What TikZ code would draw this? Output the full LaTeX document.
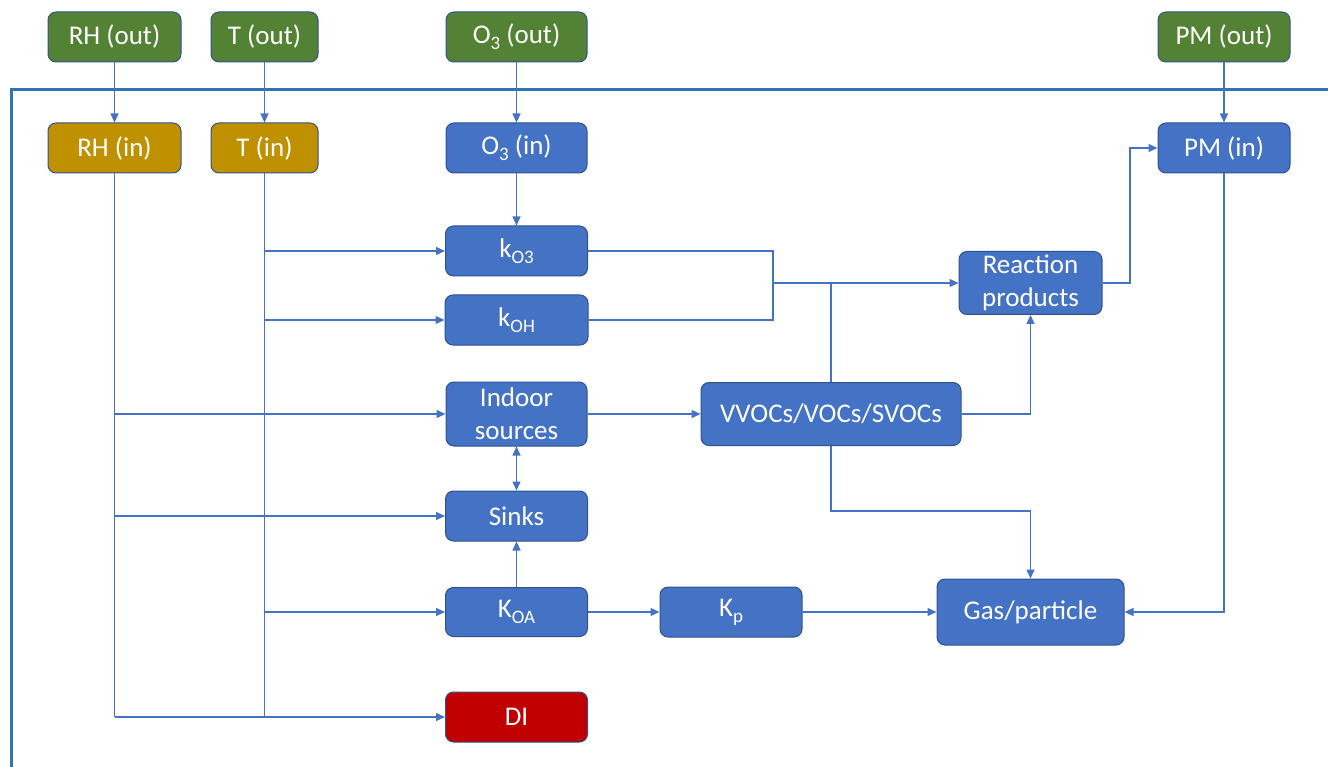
\documentclass[tikz,border=0pt]{standalone}
\usepackage{fontspec}
\setmainfont{Carlito}
\usetikzlibrary{arrows.meta}
\definecolor{boxblue}{HTML}{4472C4}
\definecolor{boxgreen}{HTML}{548235}
\definecolor{boxgold}{HTML}{BF9000}
\definecolor{boxred}{HTML}{C00000}
\definecolor{edge}{HTML}{2F528F}
\definecolor{lineblue}{HTML}{4472C4}
\definecolor{framecol}{HTML}{2E75B6}
\newcommand\lowsub[1]{\raisebox{-0.45ex}{\fontsize{19}{19}\selectfont #1}}
\tikzset{
  box/.style={draw=edge, line width=1pt, rounded corners=8pt, text=white,
    font=\fontsize{27}{33}\selectfont, inner sep=0pt, align=center, fill=boxblue},
  conn/.style={draw=lineblue, line width=1.3pt, -{Triangle[length=9pt,width=8pt]}},
  conntwo/.style={draw=lineblue, line width=1.3pt, {Triangle[length=9pt,width=8pt]}-{Triangle[length=9pt,width=8pt]}},
  plain/.style={draw=lineblue, line width=1.3pt}
}
\begin{document}
\begin{tikzpicture}[x=1pt,y=-1pt]
\useasboundingbox (0,0) rectangle (1328,767);
% frame
\draw[framecol, line width=3pt] (1335,90) -- (11,90) -- (11,775);
% nodes
\node[box, fill=boxgreen, minimum width=133pt, minimum height=50pt] (rhout) at (114.5,37) {RH (out)};
\node[box, fill=boxgreen, minimum width=107pt, minimum height=50pt] (tout) at (264.5,37) {T (out)};
\node[box, fill=boxgreen, minimum width=141pt, minimum height=50pt] (o3out) at (516.5,37) {O\lowsub{3} (out)};
\node[box, fill=boxgreen, minimum width=132pt, minimum height=50pt] (pmout) at (1224,37) {PM (out)};
\node[box, fill=boxgold, minimum width=133pt, minimum height=50pt] (rhin) at (114.5,148) {RH (in)};
\node[box, fill=boxgold, minimum width=107pt, minimum height=50pt] (tin) at (264.5,148) {T (in)};
\node[box, minimum width=141pt, minimum height=50pt] (o3in) at (516.5,148) {O\lowsub{3} (in)};
\node[box, minimum width=132pt, minimum height=50pt] (pmin) at (1224,148) {PM (in)};
\node[box, minimum width=142pt, minimum height=50pt] (ko3) at (516.5,251) {k\lowsub{O3}};
\node[box, minimum width=143pt, minimum height=50pt] (koh) at (516.5,320) {k\lowsub{OH}};
\node[box, minimum width=141pt, minimum height=64pt] (indoor) at (516.5,414) {Indoor\\sources};
\node[box, minimum width=142pt, minimum height=50pt] (sinks) at (516.5,516) {Sinks};
\node[box, minimum width=142pt, minimum height=49pt] (koa) at (516.5,612) {K\lowsub{OA}};
\node[box, fill=boxred, minimum width=142pt, minimum height=50pt] (di) at (516.5,717) {DI};
\node[box, minimum width=142pt, minimum height=50pt] (kp) at (731,612) {K\lowsub{p}};
\node[box, minimum width=187pt, minimum height=66pt] (gas) at (1030.5,612) {Gas/particle};
\node[box, minimum width=260pt, minimum height=63pt] (voc) at (831,414) {VVOCs/VOCs/SVOCs};
\node[box, minimum width=143pt, minimum height=63pt] (rp) at (1030.5,283) {Reaction\\products};
% helper coordinates
\coordinate (j) at (773,283);
\coordinate (vbend) at (831,511);
\coordinate (pmb) at (1130,148);
% outside -> inside
\draw[conn] (rhout) -- (rhin);
\draw[conn] (tout) -- (tin);
\draw[conn] (o3out) -- (o3in);
\draw[conn] (pmout) -- (pmin);
\draw[conn] (o3in) -- (ko3);
% T spine
\draw[plain] (tin.south) -- (tin.south |- di.west);
\draw[conn] (tin.south |- ko3.west) -- (ko3.west);
\draw[conn] (tin.south |- koh.west) -- (koh.west);
\draw[conn] (tin.south |- koa.west) -- (koa.west);
% RH spine
\draw[plain] (rhin.south) -- (rhin.south |- di.west);
\draw[conn] (rhin.south |- indoor.west) -- (indoor.west);
\draw[conn] (rhin.south |- sinks.west) -- (sinks.west);
\draw[conn] (rhin.south |- di.west) -- (di.west);
% rate constants to reaction products
\draw[plain] (ko3.east) -| (j) |- (koh.east);
\draw[conn] (j) -- (rp.west);
\draw[plain] (voc.north) -- (voc.north |- rp.west);
% others
\draw[conn] (indoor) -- (voc);
\draw[conn] (voc.east) -| (rp.south);
\draw[conn] (voc.south) -- (vbend) -| (gas.north);
\draw[conntwo] (indoor) -- (sinks);
\draw[conn] (koa) -- (sinks);
\draw[conn] (koa) -- (kp);
\draw[conn] (kp) -- (gas);
\draw[conn] (pmin.south) |- (gas.east);
\draw[conn] (rp.east) -| (pmb) -- (pmin.west);
\end{tikzpicture}
\end{document}
